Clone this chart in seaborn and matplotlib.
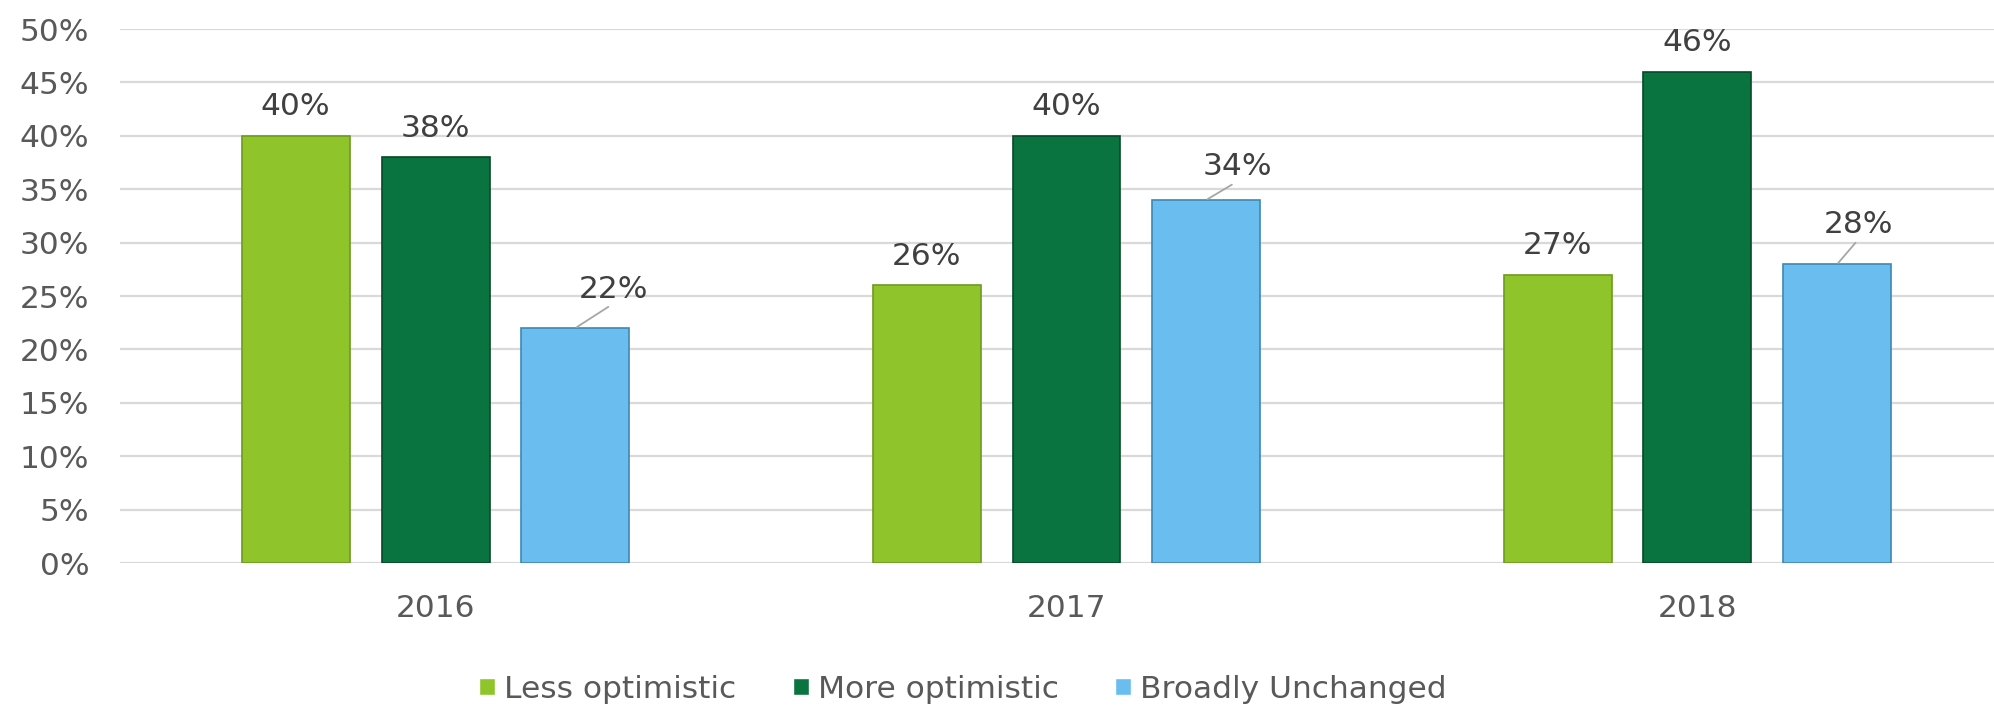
import matplotlib
matplotlib.use("Agg")
import matplotlib.pyplot as plt
import seaborn as sns
import pandas as pd

# ---- data ----
years = ["2016", "2017", "2018"]
series = ["Less optimistic", "More optimistic", "Broadly Unchanged"]
less_optimistic = [40, 26, 27]
more_optimistic = [38, 40, 46]
broadly_unchanged = [22, 34, 28]
y_ticks = [0, 5, 10, 15, 20, 25, 30, 35, 40, 45, 50]

colors = ["#8FC52B", "#0A7440", "#69BEEF"]
edges = ["#6E9A1E", "#054A28", "#3F87B3"]

rows = []
for s, vals in zip(series, [less_optimistic, more_optimistic, broadly_unchanged]):
    for y, v in zip(years, vals):
        rows.append({"year": y, "series": s, "value": v})
df = pd.DataFrame(rows)

sns.set_style("white")
plt.rcParams["font.family"] = ["DejaVu Sans"]

fig = plt.figure(figsize=(19.94, 7.06), dpi=100)
ax = fig.add_axes([0.0602, 0.2025, 0.9493, 0.7564])

sns.barplot(data=df, x="year", y="value", hue="series", order=years,
            hue_order=series, palette=colors, width=0.665, gap=0.228,
            ax=ax, legend=True, saturation=1)

for cont, ec in zip(ax.containers, edges):
    for bar in cont:
        bar.set_edgecolor(ec)
        bar.set_linewidth(1.2)
        bar.set_zorder(3)

ax.set_xlim(-0.5, 2.5)
ax.set_ylim(0, 50)
ax.set_yticks(y_ticks)
ax.set_yticklabels([f"{t}%" for t in y_ticks])
ax.yaxis.grid(True, color="#D9D9D9", linewidth=1.6, zorder=0)
ax.set_axisbelow(True)
for sp in ax.spines.values():
    sp.set_visible(False)
ax.tick_params(axis="y", length=0, pad=22, labelsize=22.5, labelcolor="#595959")
ax.tick_params(axis="x", length=0, pad=22, labelsize=22.5, labelcolor="#595959")
ax.set_xlabel("")
ax.set_ylabel("")

# data labels
label_color = "#404040"
blue_offsets = [(38, 39), (31, 33), (21, 39)]
for i, cont in enumerate(ax.containers):
    for j, bar in enumerate(cont):
        h = bar.get_height()
        cx = bar.get_x() + bar.get_width() / 2
        if i < 2:
            ax.annotate(f"{h:.0f}%", xy=(cx, h), xytext=(0, 29),
                        textcoords="offset pixels", ha="center", va="center",
                        fontsize=22.5, color=label_color)
        else:
            dx, dy = blue_offsets[j]
            ax.annotate(f"{h:.0f}%", xy=(cx, h), xytext=(dx, dy),
                        textcoords="offset pixels", ha="center", va="center",
                        fontsize=22.5, color=label_color,
                        arrowprops=dict(arrowstyle="-", color="#A6A6A6",
                                        lw=1.3, shrinkA=0, shrinkB=1,
                                        relpos=(0.5, 0.0)))

handles, labels = ax.get_legend_handles_labels()
ax.legend_.remove()
fig.legend(handles, labels, loc="center", bbox_to_anchor=(0.483, 0.024),
           ncol=3, frameon=False, fontsize=22.5, handlelength=0.5,
           handleheight=0.5, handletextpad=0.3, columnspacing=1.8,
           labelcolor="#595959")

fig.savefig("out.png", dpi=100)
